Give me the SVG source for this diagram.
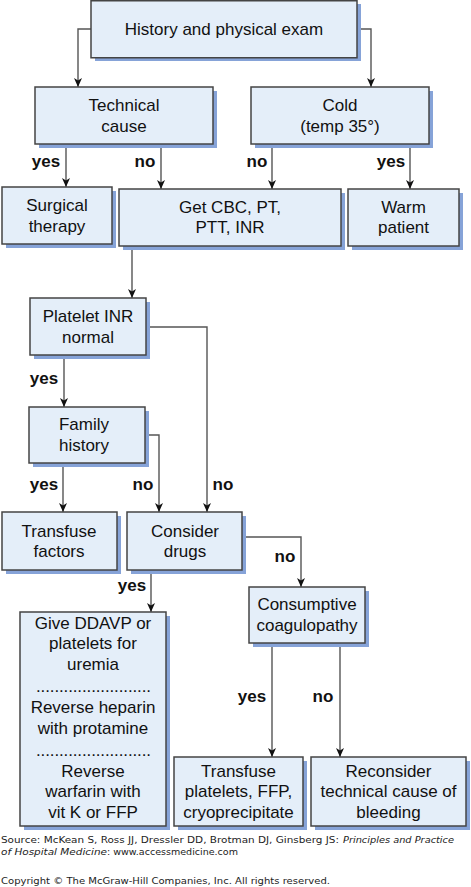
<svg xmlns="http://www.w3.org/2000/svg" width="471" height="887" viewBox="0 0 471 887">
<defs>
<style>
.box rect.sh{fill:#86a3d8;stroke:none}
.box rect.bx{fill:#e4eef9;stroke:#444;stroke-width:1.5}
.box text{font-family:"Liberation Sans",Arial,sans-serif;font-size:17px;fill:#111;text-anchor:middle}
.lbl{font-family:"Liberation Sans",Arial,sans-serif;font-size:17px;font-weight:bold;fill:#111;text-anchor:middle}
#connectors path{fill:none;stroke:#555;stroke-width:1.4;marker-end:url(#arr)}
.foot{font-family:"DejaVu Sans",Verdana,sans-serif;font-size:9px;fill:#222}
</style>
<marker id="arr" markerUnits="userSpaceOnUse" markerWidth="10" markerHeight="10" viewBox="0 0 10 10" refX="9" refY="5" orient="auto">
<path d="M0,1 L9,5 L0,9 L2.5,5 z" fill="#111"/>
</marker>
</defs>
<rect width="471" height="887" fill="#fff"/>

<g id="connectors">
<path d="M91,29 H78 V87"/>
<path d="M357,29 H371 V87"/>
<path d="M66,144 V187"/>
<path d="M161,144 V189"/>
<path d="M272,144 V189"/>
<path d="M410,144 V189"/>
<path d="M132,246 V298"/>
<path d="M146,327 H207 V512"/>
<path d="M64,355 V407"/>
<path d="M145,435 H159 V512"/>
<path d="M63,463 V512"/>
<path d="M242,537 H301 V587"/>
<path d="M151,570 V612"/>
<path d="M272,643 V757"/>
<path d="M340,643 V757"/>
</g>

<g id="labels">
<text class="lbl" x="46" y="167">yes</text>
<text class="lbl" x="145" y="167">no</text>
<text class="lbl" x="257" y="167">no</text>
<text class="lbl" x="391" y="167">yes</text>
<text class="lbl" x="44" y="384">yes</text>
<text class="lbl" x="44" y="490">yes</text>
<text class="lbl" x="143" y="490">no</text>
<text class="lbl" x="223" y="490">no</text>
<text class="lbl" x="285" y="562">no</text>
<text class="lbl" x="132" y="591">yes</text>
<text class="lbl" x="252" y="702">yes</text>
<text class="lbl" x="323" y="702">no</text>
</g>

<g id="n-history" class="box">
<rect class="sh" x="95" y="4" width="266" height="57"/>
<rect class="bx" x="91" y="0.75" width="266" height="57"/>
<text x="224" y="35">History and physical exam</text>
</g>
<g id="n-technical" class="box">
<rect class="sh" x="39" y="91" width="178" height="57"/>
<rect class="bx" x="35" y="87" width="178" height="57"/>
<text x="124" y="111">Technical</text>
<text x="124" y="131.5">cause</text>
</g>
<g id="n-cold" class="box">
<rect class="sh" x="255" y="91" width="178" height="57"/>
<rect class="bx" x="251" y="87" width="178" height="57"/>
<text x="340" y="111">Cold</text>
<text x="340" y="131.5">(temp 35°)</text>
</g>
<g id="n-surgical" class="box">
<rect class="sh" x="6" y="191" width="110" height="57"/>
<rect class="bx" x="2" y="187" width="110" height="57"/>
<text x="57" y="211">Surgical</text>
<text x="57" y="231.5">therapy</text>
</g>
<g id="n-getcbc" class="box">
<rect class="sh" x="123" y="193" width="222" height="57"/>
<rect class="bx" x="119" y="189" width="222" height="57"/>
<text x="230" y="212.5">Get CBC, PT,</text>
<text x="230" y="233">PTT, INR</text>
</g>
<g id="n-warm" class="box">
<rect class="sh" x="352" y="193" width="111" height="57"/>
<rect class="bx" x="348" y="189" width="111" height="57"/>
<text x="403.5" y="212.5">Warm</text>
<text x="403.5" y="233">patient</text>
</g>
<g id="n-platelet" class="box">
<rect class="sh" x="34" y="302" width="116" height="57"/>
<rect class="bx" x="30" y="298" width="116" height="57"/>
<text x="88" y="322">Platelet INR</text>
<text x="88" y="342.5">normal</text>
</g>
<g id="n-family" class="box">
<rect class="sh" x="33" y="411" width="116" height="56"/>
<rect class="bx" x="29" y="407" width="116" height="56"/>
<text x="84" y="430">Family</text>
<text x="84" y="450.5">history</text>
</g>
<g id="n-transfuse-factors" class="box">
<rect class="sh" x="6" y="516" width="115" height="58"/>
<rect class="bx" x="2" y="512" width="115" height="58"/>
<text x="59" y="536.5">Transfuse</text>
<text x="59" y="557">factors</text>
</g>
<g id="n-consider" class="box">
<rect class="sh" x="131" y="516" width="115" height="58"/>
<rect class="bx" x="127" y="512" width="115" height="58"/>
<text x="185" y="536.5">Consider</text>
<text x="185" y="557">drugs</text>
</g>
<g id="n-consumptive" class="box">
<rect class="sh" x="253" y="591" width="116" height="56"/>
<rect class="bx" x="249" y="587" width="116" height="56"/>
<text x="307" y="610">Consumptive</text>
<text x="307" y="630.5">coagulopathy</text>
</g>
<g id="n-ddavp" class="box">
<rect class="sh" x="24" y="616" width="146" height="214"/>
<rect class="bx" x="20" y="612" width="146" height="214"/>
<text x="93" y="628.5">Give DDAVP or</text>
<text x="93" y="649">platelets for</text>
<text x="93" y="670">uremia</text>
<text x="93.5" y="692" textLength="115" lengthAdjust="spacing">.........................</text>
<text x="93" y="713">Reverse heparin</text>
<text x="93" y="733.5">with protamine</text>
<text x="93.5" y="756" textLength="115" lengthAdjust="spacing">.........................</text>
<text x="93" y="777">Reverse</text>
<text x="93" y="797">warfarin with</text>
<text x="93" y="817.5">vit K or FFP</text>
</g>
<g id="n-transfuse-platelets" class="box">
<rect class="sh" x="178" y="761" width="129" height="69"/>
<rect class="bx" x="174" y="757" width="129" height="69"/>
<text x="238.5" y="777">Transfuse</text>
<text x="238.5" y="797">platelets, FFP,</text>
<text x="238.5" y="817.5">cryoprecipitate</text>
</g>
<g id="n-reconsider" class="box">
<rect class="sh" x="315" y="761" width="155" height="69"/>
<rect class="bx" x="311" y="757" width="155" height="69"/>
<text x="388.5" y="777">Reconsider</text>
<text x="388.5" y="797">technical cause of</text>
<text x="388.5" y="817.5">bleeding</text>
</g>

<g id="footer">
<text class="foot" x="1" y="843" textLength="338" lengthAdjust="spacingAndGlyphs">Source: McKean S, Ross JJ, Dressler DD, Brotman DJ, Ginsberg JS:</text>
<text class="foot" x="343" y="843" font-style="italic" textLength="111" lengthAdjust="spacingAndGlyphs">Principles and Practice</text>
<text class="foot" x="1" y="855" font-style="italic" textLength="106" lengthAdjust="spacingAndGlyphs">of Hospital Medicine</text>
<text class="foot" x="107" y="855" textLength="131" lengthAdjust="spacingAndGlyphs">: www.accessmedicine.com</text>
<text class="foot" x="1" y="884" textLength="329" lengthAdjust="spacingAndGlyphs">Copyright © The McGraw-Hill Companies, Inc. All rights reserved.</text>
</g>
</svg>
